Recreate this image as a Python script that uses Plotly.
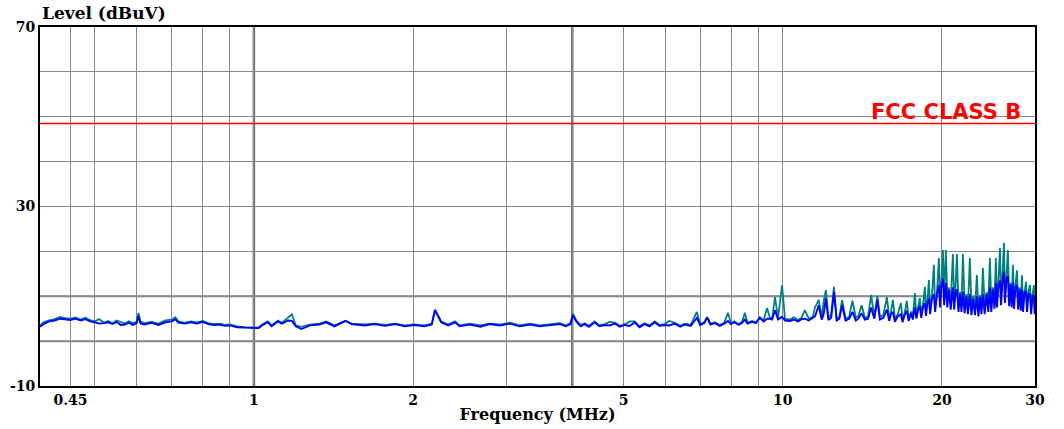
import plotly.graph_objects as go

# ---------------- data ----------------
freq_mhz = [
    0.394, 0.40, 0.41, 0.42, 0.43, 0.44, 0.45, 0.46, 0.47, 0.48, 0.49, 0.50, 0.51, 0.52, 0.53,
    0.54, 0.55, 0.56, 0.57, 0.58, 0.59, 0.60, 0.605, 0.61, 0.62, 0.64, 0.66, 0.68, 0.70, 0.71,
    0.72, 0.74, 0.76, 0.78, 0.80, 0.82, 0.84, 0.86, 0.88, 0.90, 0.93, 0.96, 1.00,
    1.02, 1.036, 1.063, 1.08, 1.11, 1.13, 1.16, 1.18, 1.20, 1.23, 1.276, 1.33, 1.37, 1.42, 1.49,
    1.53, 1.62, 1.69, 1.77, 1.85, 1.93, 2.01, 2.10, 2.17, 2.20, 2.23, 2.26, 2.33, 2.40, 2.45,
    2.56, 2.68, 2.79, 2.92, 3.05, 3.18, 3.33, 3.47, 3.63, 3.79, 3.89, 3.97, 4.01, 4.07, 4.15,
    4.22, 4.30, 4.41, 4.50, 4.61, 4.70, 4.82, 4.92, 5.03, 5.14, 5.25, 5.36, 5.48, 5.60, 5.73,
    5.85, 5.98, 6.10, 6.25, 6.40, 6.53, 6.70, 6.88, 6.98, 7.10, 7.20, 7.30, 7.45, 7.60, 7.75,
    7.88, 7.98, 8.10, 8.25, 8.38, 8.48, 8.58, 8.75, 8.90, 9.05, 9.20, 9.34, 9.45, 9.55, 9.67,
    9.80, 9.97, 10.10, 10.32, 10.50, 10.70, 10.85, 11.01, 11.2, 11.4, 11.51, 11.7, 11.85, 11.95,
    12.07, 12.2, 12.35, 12.50, 12.65, 12.8, 12.95, 13.15, 13.35, 13.55, 13.75, 13.9, 14.1, 14.3,
    14.5, 14.7, 14.9, 15.1, 15.27,
    15.50, 15.74, 15.90, 16.02, 16.16, 16.30, 16.50, 16.73, 16.85, 17.00, 17.17, 17.30, 17.50,
    17.62, 17.78, 17.90, 18.03, 18.17, 18.28, 18.42, 18.57, 18.66, 18.78, 18.90, 19.00, 19.15,
    19.31, 19.42, 19.58, 19.74, 19.84, 19.95, 20.09, 20.20, 20.35, 20.48, 20.62, 20.78, 20.98,
    21.10, 21.22, 21.35, 21.50, 21.65, 21.78, 21.92, 22.08, 22.25, 22.40, 22.59, 22.75, 22.92,
    23.10, 23.29, 23.45, 23.62, 23.76, 23.91, 24.10, 24.30, 24.48, 24.65, 24.80, 24.98, 25.15,
    25.30, 25.42, 25.58, 25.75, 25.88, 26.02, 26.20, 26.32, 26.48, 26.66, 26.80, 26.98, 27.10,
    27.25, 27.38, 27.55, 27.73, 27.88, 28.05, 28.20, 28.34, 28.48, 28.66, 28.84, 28.98, 29.15,
    29.35, 29.50, 29.68, 29.86, 29.95,
]

peak_dbuv = [
    3.4, 4.2, 4.6, 4.9, 5.4, 5.1, 5.0, 5.3, 4.8, 5.2, 4.7, 4.4, 4.9, 4.1, 4.5,
    4.0, 4.6, 4.2, 3.9, 4.4, 4.0, 4.3, 6.3, 4.4, 4.0, 4.3, 3.9, 4.6, 4.8, 5.3,
    4.4, 4.1, 4.4, 4.2, 4.5, 4.0, 3.8, 3.9, 3.6, 3.7, 3.3, 3.1, 3.1,
    3.0, 3.7, 4.4, 3.5, 4.6, 4.1, 5.2, 6.0, 3.5, 3.2, 3.7, 3.9, 4.4, 3.5, 4.5,
    3.9, 3.7, 3.9, 3.6, 3.9, 3.5, 3.7, 3.5, 3.9, 7.0, 5.7, 4.4, 3.7, 4.4, 3.5,
    3.9, 3.5, 3.9, 3.7, 4.1, 3.5, 3.9, 3.5, 3.7, 4.0, 3.5, 4.0, 6.1, 4.6, 3.6,
    4.0, 3.4, 4.4, 3.5, 3.8, 4.3, 4.1, 3.4, 3.8, 4.4, 4.4, 3.3, 4.0, 3.5, 4.4,
    3.6, 3.8, 4.5, 4.1, 3.4, 3.9, 3.6, 6.5, 3.8, 4.2, 5.4, 3.9, 4.2, 3.6, 4.1,
    6.3, 4.0, 4.4, 3.8, 4.3, 6.3, 4.1, 4.5, 4.2, 5.3, 4.6, 7.4, 5.4, 5.0, 9.8,
    5.2, 12.5, 5.0, 4.8, 5.3, 4.7, 5.2, 6.9, 5.0, 5.4, 7.5, 9.2, 5.2, 8.8,
    11.4, 5.2, 6.0, 12.1, 5.0, 5.4, 9.2, 5.0, 5.4, 9.0, 5.2, 5.6, 8.0, 5.2,
    5.5, 10.3, 5.4, 10.1, 5.4,
    5.8, 9.8, 5.2, 6.5, 9.2, 5.0, 6.0, 8.5, 4.9, 6.2, 9.0, 5.2, 6.6,
    5.4, 10.7, 5.6, 7.5, 9.6, 6.0, 8.2, 12.1, 6.5, 9.0, 13.6, 7.0, 10.0,
    17.0, 7.5, 11.0, 18.5, 9.0, 12.5, 20.3, 10.0, 20.3, 9.5, 12.0, 8.5, 19.4,
    9.0, 11.5, 19.4, 8.2, 11.0, 8.0, 19.4, 7.8, 10.5, 7.5, 18.5, 7.5, 10.0,
    7.2, 14.7, 7.0, 10.2, 7.2, 16.3, 7.5, 11.0, 8.0, 18.5, 8.5, 12.0, 9.0,
    18.5, 9.5, 13.0, 20.8, 10.0, 13.5, 21.9, 10.5, 14.0, 20.3, 9.5, 13.0, 9.0,
    17.0, 8.8, 12.5, 15.8, 8.5, 12.0, 8.2, 14.7, 8.0, 11.5, 13.2, 7.8, 11.0,
    12.5, 7.5, 10.5, 12.5, 7.2,
]

avg_dbuv = [
    3.2, 3.8, 4.4, 4.6, 5.0, 4.9, 4.7, 5.0, 4.6, 4.9, 4.4, 4.2, 3.9, 4.0, 4.2,
    3.8, 4.3, 3.6, 3.7, 4.1, 3.6, 4.0, 5.6, 4.0, 3.7, 4.1, 3.6, 4.2, 4.4, 4.9,
    4.1, 3.9, 4.2, 3.9, 4.3, 3.8, 3.6, 3.7, 3.4, 3.5, 3.1, 3.0, 3.0,
    2.9, 3.5, 4.2, 3.3, 4.4, 3.9, 4.6, 4.5, 3.3, 2.7, 3.5, 3.7, 4.2, 3.3, 4.5,
    3.8, 3.5, 3.8, 3.4, 3.8, 3.3, 3.6, 3.3, 3.7, 6.9, 5.6, 4.2, 3.5, 4.2, 3.3,
    3.7, 3.2, 3.8, 3.5, 3.9, 3.3, 3.7, 3.3, 3.6, 3.8, 3.3, 3.8, 5.8, 4.4, 3.3,
    3.8, 3.2, 4.2, 3.3, 3.6, 3.5, 3.9, 3.2, 3.6, 3.4, 4.2, 3.1, 3.8, 3.3, 4.2,
    3.4, 3.6, 3.5, 3.9, 3.2, 3.7, 3.4, 5.2, 3.6, 4.0, 5.2, 3.7, 4.0, 3.4, 3.9,
    4.5, 3.8, 4.2, 3.6, 4.1, 4.8, 3.9, 4.3, 4.0, 5.2, 4.4, 5.0, 5.0, 4.8, 6.9,
    4.8, 5.4, 4.6, 4.5, 4.8, 4.4, 4.9, 5.0, 4.6, 5.2, 5.5, 8.0, 4.8, 6.0,
    9.5, 4.7, 5.2, 11.0, 4.6, 5.0, 8.0, 4.6, 5.0, 6.5, 4.6, 5.0, 6.2, 4.8,
    5.0, 7.5, 5.0, 9.2, 4.8,
    5.2, 7.0, 4.5, 6.0, 6.5, 4.3, 5.5, 6.0, 4.2, 5.8, 6.8, 4.5, 6.2,
    4.8, 7.5, 5.0, 7.0, 7.8, 5.2, 7.5, 8.5, 5.6, 8.5, 9.5, 6.0, 9.5,
    10.5, 6.5, 10.5, 12.5, 7.5, 12.0, 14.0, 8.0, 13.0, 7.5, 11.5, 7.0, 12.0,
    7.0, 11.0, 11.5, 6.5, 10.5, 6.5, 11.0, 6.2, 10.0, 6.0, 10.5, 5.8, 9.5,
    5.8, 10.0, 5.5, 9.8, 6.0, 10.5, 6.0, 10.5, 6.5, 12.0, 6.5, 11.5, 7.2,
    13.0, 7.5, 12.5, 13.5, 8.0, 13.0, 15.5, 8.5, 13.5, 14.5, 7.8, 12.5, 7.5,
    13.0, 7.2, 12.0, 12.5, 7.0, 11.5, 6.8, 11.5, 6.5, 11.0, 11.0, 6.5, 10.5,
    10.5, 6.0, 10.0, 10.0, 6.0,
]

limit_freq_mhz = [0.394, 30.0]
limit_dbuv = [48.5, 48.5]
limit_label = "FCC CLASS B"

x_grid = [0.45, 0.5, 0.6, 0.7, 0.8, 0.9, 1, 2, 3, 4, 5, 6, 7, 8, 9, 10, 20, 30]
x_labels = {0.45: "0.45", 1: "1", 2: "2", 5: "5", 10: "10", 20: "20", 30: "30"}
x_thick = [1, 4]
y_grid = [-10, 0, 10, 20, 30, 40, 50, 60, 70]
y_labels = {-10: "-10", 30: "30", 70: "70"}
y_thick = [0, 10]

# ---------------- figure ----------------
SERIF = "DejaVu Serif, Liberation Serif, serif"
SANS = "DejaVu Sans, Liberation Sans, sans-serif"

fig = go.Figure()
fig.add_trace(go.Scatter(x=freq_mhz, y=peak_dbuv, mode="lines",
                         line=dict(color="#008080", width=1.8), showlegend=False))
fig.add_trace(go.Scatter(x=freq_mhz, y=avg_dbuv, mode="lines",
                         line=dict(color="#0000ff", width=1.9), showlegend=False))
fig.add_trace(go.Scatter(x=limit_freq_mhz, y=limit_dbuv, mode="lines",
                         line=dict(color="#ff0000", width=1.4), showlegend=False))

for xv in x_thick:
    fig.add_shape(type="line", xref="x", yref="paper", x0=xv, x1=xv, y0=0, y1=1,
                  line=dict(color="#707070", width=2.5), layer="below")
for yv in y_thick:
    fig.add_shape(type="line", xref="paper", yref="y", x0=0, x1=1, y0=yv, y1=yv,
                  line=dict(color="#787878", width=2), layer="below")

fig.add_annotation(text="<b>" + limit_label + "</b>", xref="paper", yref="y",
                   x=(1023 - 40) / 995, y=limit_dbuv[0], xanchor="right", yanchor="bottom",
                   yshift=-3, showarrow=False,
                   font=dict(family=SANS, size=21, color="#ff0000"))
fig.add_annotation(text="<b>Level (dBuV)</b>", xref="paper", yref="paper",
                   x=0.0, y=1.0, xanchor="left", yanchor="bottom", yshift=2,
                   showarrow=False, font=dict(family=SERIF, size=17, color="#000000"))

fig.update_layout(
    width=1064, height=429,
    margin=dict(l=40, r=29, t=27, b=43),
    paper_bgcolor="white", plot_bgcolor="white",
    xaxis=dict(type="log", range=[-0.4045, 1.4771], automargin=False,
               tickvals=x_grid,
               ticktext=["<b>" + x_labels[v] + "</b>" if v in x_labels else "" for v in x_grid],
               showgrid=True, gridcolor="#8a8a8a", gridwidth=1,
               showline=True, linecolor="black", linewidth=2, mirror=True,
               ticks="", zeroline=False,
               tickfont=dict(family=SERIF, size=14, color="black"),
               title=dict(text="<b>Frequency (MHz)</b>", standoff=2,
                          font=dict(family=SERIF, size=16, color="black"))),
    yaxis=dict(range=[-10, 70], tickvals=y_grid, automargin=False,
               ticktext=["<b>" + y_labels[v] + "</b>" if v in y_labels else "" for v in y_grid],
               showgrid=True, gridcolor="#8a8a8a", gridwidth=1,
               showline=True, linecolor="black", linewidth=2, mirror=True,
               ticks="", zeroline=False,
               tickfont=dict(family=SERIF, size=14, color="black")),
)

fig.write_html("out.html")
